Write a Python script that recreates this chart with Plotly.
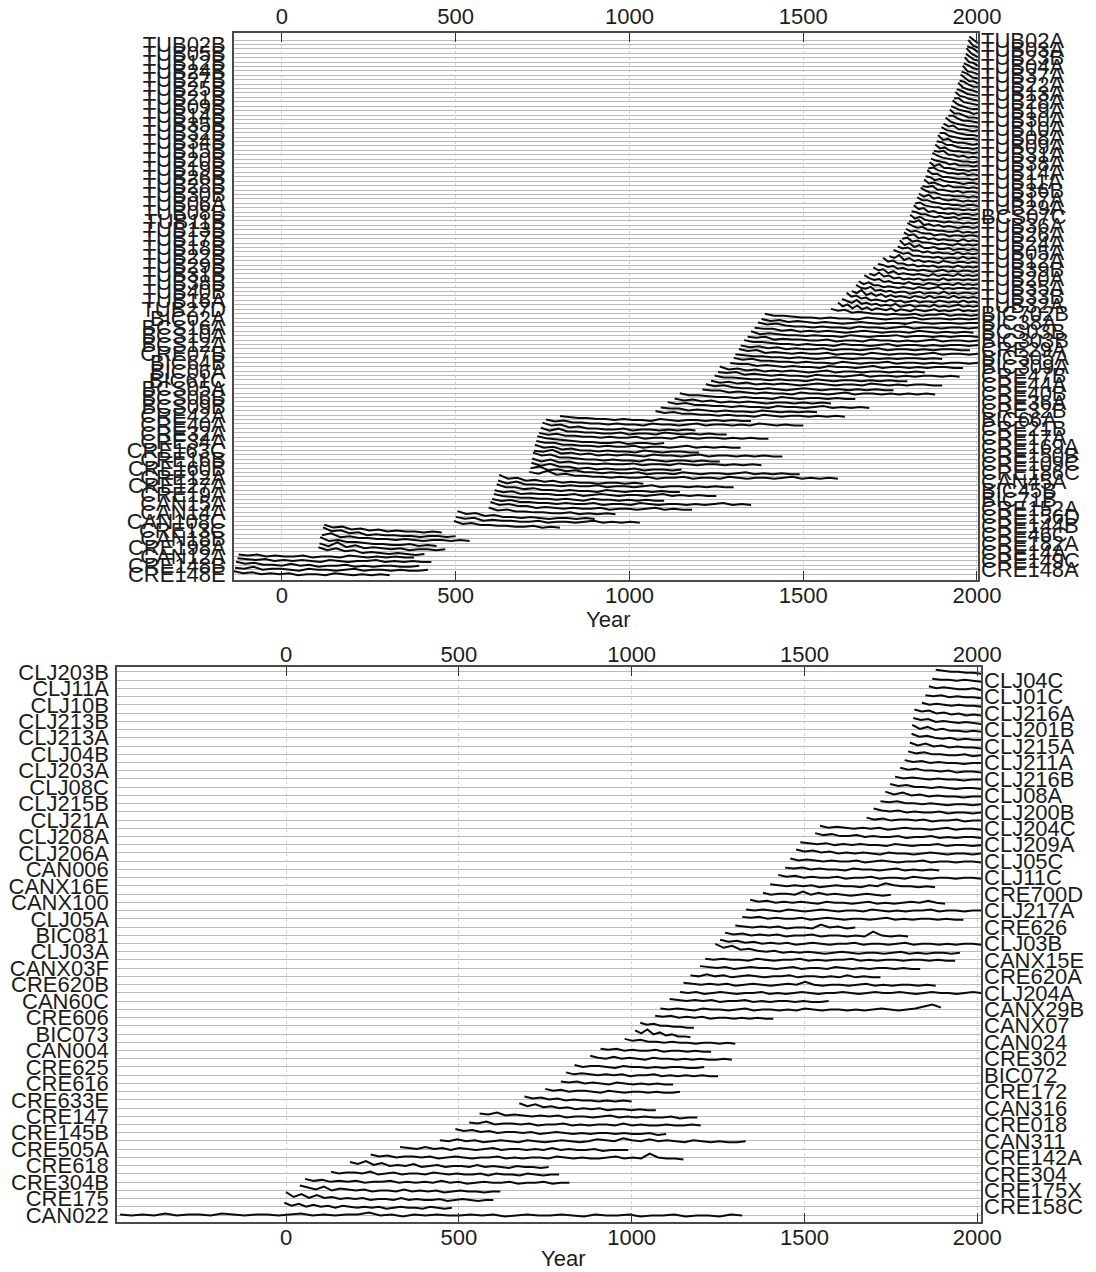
import plotly.graph_objects as go

# ---------------- upper panel: 122 series, position 1 at the bottom ----------------
# labels on the left axis (odd positions) and right axis (even positions), bottom -> top
up_left = ["CRE148E", "CRE148B", "CAN12A", "CRE198A", "CAN18B", "CRE13C", "CAN108C", "CAN14A",
           "CAN15A", "CRE19A", "CRE127A", "CRE12A", "CRE160B", "CRE16B", "CRE163C", "CRE34A",
           "CRE32A", "CRE40A", "CRE42A", "BCS09B", "BCS06B", "BCS05A", "BIC61C", "BIC06A",
           "BIC64B", "CRE07B", "BCS12A", "BCS10A", "BCS16A", "BIC02A",
           "TUB27D", "TUB16A", "TUB40B", "TUB38B", "TUB31B", "TUB29B", "TUB22B", "TUB18B",
           "TUB17B", "TUB13B", "TUB11B", "TUB08B", "TUB06A", "TUB30B", "TUB28B", "TUB26B",
           "TUB19B", "TUB20B", "TUB15B", "TUB34B", "TUB32B", "TUB35B", "TUB14B", "TUB09B",
           "TUB21B", "TUB25B", "TUB27B", "TUB24B", "TUB12B", "TUB05B", "TUB02B"]
up_right = ["CRE148A", "CRE149C", "CRE14A", "CRE182A", "CRE46C", "CRE144B", "CRE156D", "CRE152A",
            "BIC71B", "BIC45B", "CAN45A", "CRE186C", "CRE109C", "CRE150B", "CRE169A", "CRE17A",
            "CRE21B", "BIC66A", "CRE32B", "CRE36A", "CRE40B", "CRE44A", "CRE47B", "BIC309A",
            "BIC305A", "CRE29A", "BIC303B", "BCS03B", "BIC38A", "BIC702B",
            "TUB32A", "TUB33B", "TUB35A", "TUB20A", "TUB39B", "TUB12A", "TUB05A", "TUB24A",
            "TUB26A", "TUB36A", "BCS07C", "TUB29A", "TUB17A", "TUB36B", "TUB11A", "TUB14A",
            "TUB38A", "TUB31A", "TUB09A", "TUB08A", "TUB10A", "TUB30A", "TUB19A", "TUB28A",
            "TUB13A", "TUB22A", "TUB37A", "TUB04A", "TUB23B", "TUB03A", "TUB02A"]

# first and last year of each series (position order)
up_first = [-138, -135, -132, -128, -125, 105, 108, 110, 115, 118, 122, 495, 500, 505,
            595, 600, 605, 610, 612, 618, 622, 625, 712, 715, 718, 720, 722, 725, 728, 732,
            735, 740, 745, 750, 760, 800, 1075, 1090, 1110, 1130, 1145, 1210, 1220, 1235,
            1245, 1255, 1260, 1290, 1300, 1305, 1315, 1320, 1330, 1340, 1350, 1360, 1370,
            1380, 1390, 1580,
            1600, 1612, 1625, 1640, 1652, 1660, 1676, 1690, 1702, 1715, 1730, 1748, 1760,
            1772, 1778, 1785, 1790, 1796, 1800, 1805, 1808, 1812, 1818, 1822, 1828, 1833,
            1838, 1843, 1848, 1852, 1857, 1860, 1864, 1868, 1872, 1876, 1880, 1884, 1888,
            1893, 1898, 1904, 1910, 1918, 1922, 1926, 1930, 1934, 1938, 1942, 1946, 1950,
            1953, 1956, 1959, 1962, 1965, 1968, 1970, 1972, 1975, 1978]
up_last = [310, 420, 395, 430, 380, 410, 470, 445, 540, 500, 460, 800, 1030, 900,
           960, 1180, 1350, 1100, 1250, 1145, 1300, 1040, 1600, 1490, 1150, 1380, 1260, 1440,
           1200, 1320, 1100, 1400, 1280, 1190, 1500, 1350, 1620, 1540, 1690, 1580, 1650,
           1880, 1760, 1900, 1800, 1950, 1850, 1960, 2003, 1900, 2003, 1980, 2003, 2003,
           2003, 1990, 2003, 2003, 2003, 2003,
           2003, 2003, 2003, 2003, 2003, 2003, 2003, 2003, 2003, 2003, 2003, 2003, 2003,
           2003, 2003, 2003, 2003, 2003, 2003, 2003, 2003, 2003, 2003, 2003, 2003, 2003,
           2003, 2003, 2003, 2003, 2003, 2003, 2003, 2003, 2003, 2003, 2003, 2003, 2003,
           2003, 2003, 2003, 2003, 2003, 2003, 2003, 2003, 2003, 2003, 2003, 2003, 2003,
           2003, 2003, 2003, 2003, 2003, 2003, 2003, 2003, 2003, 2003]

# ring widths (0.1 mm steps), evenly spaced over each series' span
up_rw = [
    [8, 6, 7, 5, 6, 5, 6, 4, 5, 5, 4, 6, 5, 4, 5, 4, 5, 4],
    [7, 6, 8, 5, 6, 6, 5, 4, 6, 5, 5, 4, 5, 6, 4, 5, 5, 4, 5, 4, 4, 5],
    [9, 7, 8, 6, 6, 5, 7, 5, 6, 4, 5, 5, 6, 4, 5, 4, 5, 5, 4, 4, 5],
    [8, 7, 6, 7, 5, 6, 5, 6, 5, 4, 6, 5, 4, 5, 5, 6, 4, 5, 4, 5, 4, 4],
    [7, 6, 7, 5, 6, 5, 5, 6, 4, 5, 5, 4, 6, 5, 4, 5, 4, 5, 4, 4],
    [12, 9, 11, 8, 9, 6, 7, 6, 5, 6, 5, 4, 5],
    [11, 8, 12, 7, 9, 6, 7, 6, 5, 6, 4, 5, 5, 4, 5],
    [13, 9, 10, 8, 8, 7, 6, 6, 5, 5, 6, 4, 5, 4],
    [10, 12, 8, 9, 7, 7, 6, 6, 5, 6, 5, 4, 5, 5, 4, 5, 4],
    [14, 10, 11, 8, 9, 6, 7, 6, 6, 5, 5, 4, 5, 5, 4, 5],
    [12, 9, 10, 7, 8, 6, 7, 5, 6, 5, 5, 4, 5, 4],
    [11, 8, 9, 7, 7, 6, 6, 5, 5, 6, 4, 5, 4],
    [10, 8, 9, 6, 7, 6, 6, 5, 5, 6, 4, 5, 5, 4, 5, 6, 4, 5, 4, 5, 4],
    [12, 9, 10, 7, 8, 6, 6, 5, 6, 5, 4, 5, 5, 4, 5, 4],
    [11, 8, 9, 7, 7, 6, 6, 5, 5, 6, 4, 5, 4, 5, 4],
    [12, 9, 10, 8, 8, 6, 7, 6, 5, 6, 5, 5, 6, 4, 5, 5, 4, 5, 6, 4, 5, 4, 4],
    [10, 8, 9, 7, 7, 6, 6, 5, 6, 5, 5, 6, 4, 5, 5, 4, 6, 5, 4, 5, 5, 4, 5, 4, 5, 6, 4, 5, 4],
    [11, 9, 8, 7, 7, 6, 6, 5, 6, 5, 4, 6, 5, 5, 4, 5, 4, 5, 4, 4],
    [10, 8, 9, 6, 7, 6, 6, 5, 5, 6, 4, 5, 6, 5, 4, 5, 5, 4, 5, 6, 4, 5, 4, 5, 4, 4],
    [12, 9, 9, 7, 8, 6, 6, 5, 6, 5, 5, 4, 6, 5, 4, 5, 5, 4, 5, 4, 4],
    [11, 8, 10, 7, 7, 6, 6, 5, 6, 5, 5, 6, 4, 5, 5, 4, 5, 6, 4, 5, 5, 4, 5, 4, 5, 4, 4],
    [13, 9, 10, 7, 8, 6, 7, 5, 6, 5, 5, 4, 5, 5, 4, 5, 4],
    [11, 9, 12, 8, 9, 7, 7, 6, 6, 5, 6, 5, 5, 6, 4, 5, 5, 6, 4, 5, 5, 4, 6, 5, 4, 5, 5, 4, 5, 6, 4, 5, 4, 5, 4],
    [10, 12, 8, 9, 7, 8, 6, 6, 5, 6, 5, 5, 6, 4, 5, 5, 4, 6, 5, 4, 5, 5, 4, 5, 6, 4, 5, 4, 5, 4, 4],
    [12, 9, 11, 8, 8, 6, 7, 5, 6, 5, 5, 6, 4, 5, 5, 4, 5],
    [11, 8, 10, 7, 8, 6, 6, 5, 6, 5, 5, 6, 4, 5, 5, 4, 6, 5, 4, 5, 5, 4, 5, 4, 5, 4],
    [13, 10, 11, 8, 8, 7, 6, 6, 5, 6, 5, 5, 4, 6, 5, 4, 5, 5, 4, 5, 4, 4],
    [10, 9, 11, 7, 8, 6, 7, 5, 6, 5, 6, 5, 4, 6, 5, 5, 4, 5, 6, 4, 5, 5, 4, 5, 4, 5, 4, 4],
    [12, 9, 10, 7, 8, 6, 6, 5, 6, 5, 5, 4, 6, 5, 4, 5, 5, 4, 4],
    [11, 9, 9, 7, 7, 6, 6, 5, 6, 5, 5, 6, 4, 5, 5, 4, 5, 6, 4, 5, 4, 5, 4, 4],
    [12, 10, 9, 8, 7, 6, 6, 5, 5, 6, 4, 5, 5, 4, 5],
    [10, 8, 9, 7, 7, 6, 6, 5, 6, 5, 5, 6, 4, 5, 5, 4, 6, 5, 4, 5, 5, 4, 5, 4, 5, 4, 4],
    [11, 8, 10, 7, 7, 6, 6, 5, 5, 6, 4, 5, 5, 4, 6, 5, 4, 5, 4, 5, 4, 4],
    [12, 9, 10, 7, 8, 6, 6, 5, 5, 6, 4, 5, 5, 4, 5, 4, 5, 4],
    [10, 8, 9, 7, 7, 6, 6, 5, 6, 5, 5, 4, 6, 5, 5, 4, 5, 6, 4, 5, 5, 4, 5, 4, 6, 5, 4, 5, 4, 4],
    [9, 8, 7, 7, 6, 6, 5, 6, 5, 5, 4, 6, 5, 4, 5, 5, 4, 5, 4, 5, 4, 4],
    [10, 8, 9, 7, 7, 6, 6, 5, 6, 5, 5, 4, 6, 5, 4, 5, 5, 4, 5, 4, 5, 4],
    [9, 8, 8, 6, 7, 6, 5, 6, 5, 5, 4, 6, 5, 4, 5, 4, 5, 4],
    [10, 8, 9, 7, 7, 6, 6, 5, 6, 5, 5, 4, 6, 5, 5, 4, 5, 6, 4, 5, 4, 5, 4],
    [9, 7, 8, 6, 7, 5, 6, 5, 6, 5, 4, 5, 5, 4, 5, 4, 5, 4],
    [10, 8, 8, 7, 6, 6, 5, 6, 5, 5, 4, 6, 5, 4, 5, 5, 4, 5, 4, 4],
    [9, 8, 8, 6, 7, 6, 5, 6, 5, 5, 4, 6, 5, 5, 4, 5, 6, 4, 5, 5, 4, 5, 4, 5, 4, 5, 4],
    [10, 8, 9, 7, 6, 6, 5, 6, 5, 4, 5, 6, 5, 4, 5, 5, 4, 5, 4, 5, 4, 4],
    [9, 7, 8, 6, 7, 5, 6, 5, 6, 5, 4, 5, 6, 5, 4, 5, 5, 4, 6, 5, 4, 5, 4, 5, 5, 4, 4],
    [10, 8, 8, 7, 6, 6, 5, 6, 5, 5, 4, 6, 5, 4, 5, 5, 4, 5, 4, 5, 4, 4],
    [9, 8, 9, 6, 7, 6, 5, 6, 5, 5, 4, 6, 5, 5, 4, 5, 6, 4, 5, 5, 4, 5, 4, 5, 5, 4, 5, 4],
    [10, 7, 8, 6, 7, 5, 6, 5, 6, 5, 4, 5, 6, 4, 5, 5, 4, 5, 5, 4, 5, 4, 5, 4],
    [9, 8, 8, 6, 7, 6, 5, 6, 5, 5, 4, 6, 5, 5, 4, 5, 6, 4, 5, 5, 4, 5, 4, 5, 5, 4, 4],
    [10, 8, 9, 7, 7, 6, 6, 5, 6, 5, 5, 4, 6, 5, 4, 5, 5, 6, 4, 5, 5, 4, 5, 4, 5, 5, 4, 5],
    [9, 8, 7, 7, 6, 6, 5, 6, 5, 4, 5, 6, 5, 4, 5, 5, 4, 5, 4, 5, 5, 4, 5, 4],
    [10, 8, 9, 6, 7, 6, 5, 6, 5, 5, 6, 4, 5, 5, 4, 6, 5, 4, 5, 5, 4, 5, 6, 4, 5, 5, 4, 5],
    [9, 7, 8, 6, 7, 5, 6, 5, 5, 6, 4, 5, 5, 4, 5, 6, 4, 5, 5, 4, 5, 4, 5, 5, 4, 4],
    [10, 8, 8, 7, 6, 6, 5, 6, 5, 5, 4, 6, 5, 5, 4, 5, 6, 4, 5, 5, 4, 5, 4, 5, 5, 4, 5],
    [9, 8, 9, 6, 7, 6, 6, 5, 5, 6, 4, 5, 5, 4, 6, 5, 5, 4, 5, 4, 5, 6, 4, 5, 5, 4, 5],
    [10, 7, 8, 7, 6, 6, 5, 6, 5, 5, 4, 6, 5, 4, 5, 5, 6, 4, 5, 5, 4, 5, 4, 5, 5, 4],
    [9, 8, 8, 6, 7, 5, 6, 5, 6, 5, 4, 5, 6, 5, 4, 5, 5, 4, 6, 5, 4, 5, 4, 5, 4],
    [10, 8, 9, 7, 6, 6, 5, 6, 5, 5, 4, 6, 5, 5, 4, 5, 6, 4, 5, 5, 4, 5, 5, 4, 5],
    [9, 7, 8, 6, 7, 6, 5, 6, 5, 4, 5, 6, 5, 4, 5, 5, 4, 6, 5, 4, 5, 5, 4, 5, 5],
    [10, 8, 8, 7, 6, 6, 5, 6, 5, 5, 4, 6, 5, 4, 5, 5, 6, 4, 5, 5, 4, 5, 4, 5],
    [11, 9, 10, 7, 8, 7, 6, 6, 5, 6, 5, 5, 6, 4, 5, 5, 6, 4, 5, 5, 4, 5],
    [14, 10, 12, 8, 11, 7, 9, 6, 8, 7, 6, 8, 5, 7, 6, 5, 7, 6, 5, 6, 7, 5, 6, 5, 6, 7, 5, 6, 5, 6],
    [13, 11, 9, 12, 8, 9, 7, 8, 6, 7, 6, 8, 5, 6, 7, 5, 6, 6, 5, 7, 5, 6, 5, 6, 7, 5, 6, 5, 6],
    [15, 11, 12, 9, 10, 7, 8, 7, 6, 8, 6, 7, 5, 6, 7, 5, 6, 6, 5, 7, 6, 5, 6, 5, 7, 5, 6, 5],
    [12, 10, 13, 8, 10, 7, 9, 6, 8, 6, 7, 6, 5, 7, 6, 5, 7, 5, 6, 6, 5, 7, 5, 6, 5, 6, 5],
    [14, 11, 10, 12, 8, 9, 7, 8, 6, 7, 7, 5, 6, 7, 5, 6, 6, 5, 7, 5, 6, 5, 6, 6, 5, 6],
    [13, 10, 12, 9, 9, 7, 8, 7, 6, 7, 6, 5, 7, 6, 5, 6, 7, 5, 6, 5, 6, 6, 5, 6, 5],
    [15, 12, 10, 11, 8, 9, 7, 7, 6, 8, 6, 6, 5, 7, 6, 5, 6, 6, 5, 7, 5, 6, 5, 6],
    [12, 10, 13, 9, 10, 7, 8, 6, 7, 6, 7, 5, 6, 6, 5, 7, 5, 6, 6, 5, 6, 5, 6],
    [14, 11, 12, 8, 10, 7, 8, 7, 6, 7, 6, 5, 7, 5, 6, 6, 5, 7, 5, 6, 5, 6],
    [13, 12, 10, 11, 8, 9, 7, 7, 6, 7, 6, 5, 6, 7, 5, 6, 5, 6, 6, 5, 6],
    [15, 11, 12, 9, 9, 7, 8, 6, 7, 6, 7, 5, 6, 6, 5, 7, 5, 6, 5, 6],
    [12, 10, 13, 8, 10, 7, 8, 6, 7, 6, 5, 7, 6, 5, 6, 6, 5, 6, 5],
    [14, 12, 10, 11, 8, 8, 7, 7, 6, 7, 5, 6, 6, 5, 7, 5, 6, 5],
    [13, 11, 12, 9, 9, 7, 8, 6, 7, 6, 6, 5, 7, 5, 6, 5, 6],
    [15, 10, 12, 8, 10, 7, 7, 8, 6, 6, 7, 5, 6, 6, 5, 6, 5],
    [12, 13, 9, 10, 8, 8, 7, 6, 7, 6, 5, 7, 5, 6, 5, 6],
    [14, 11, 12, 8, 9, 7, 8, 6, 7, 6, 6, 5, 7, 5, 6, 5],
    [13, 10, 11, 9, 8, 8, 6, 7, 7, 5, 6, 6, 5, 6, 6, 5],
    [15, 12, 10, 11, 8, 8, 7, 7, 6, 6, 7, 5, 6, 5, 6],
    [12, 11, 13, 8, 9, 7, 8, 6, 7, 6, 5, 6, 6, 5, 6],
    [14, 10, 12, 9, 8, 8, 7, 6, 7, 6, 6, 5, 6, 5, 6],
    [13, 12, 10, 10, 8, 7, 8, 6, 6, 7, 5, 6, 6, 5, 5],
    [15, 11, 12, 8, 9, 7, 7, 6, 7, 5, 6, 6, 5, 6],
    [12, 13, 10, 9, 8, 8, 6, 7, 6, 6, 5, 6, 5, 6],
    [14, 11, 11, 9, 8, 7, 7, 6, 6, 5, 6, 6, 5],
    [13, 10, 12, 8, 9, 7, 6, 7, 6, 5, 6, 5, 6],
    [15, 12, 10, 10, 8, 7, 7, 6, 6, 6, 5, 6, 5],
    [12, 11, 12, 8, 8, 7, 6, 7, 5, 6, 6, 5],
    [14, 10, 11, 9, 7, 8, 6, 6, 6, 5, 6, 5],
    [13, 12, 9, 10, 8, 7, 7, 6, 5, 6, 6, 5],
    [15, 11, 11, 8, 8, 7, 6, 6, 6, 5, 6],
    [12, 13, 10, 9, 7, 7, 6, 7, 5, 6, 5],
    [14, 10, 12, 8, 8, 7, 6, 6, 5, 6, 6],
    [13, 11, 10, 9, 7, 8, 6, 6, 6, 5, 6],
    [15, 12, 10, 9, 8, 7, 6, 6, 5, 6],
    [12, 11, 12, 8, 8, 6, 7, 5, 6, 5],
    [14, 10, 11, 8, 7, 7, 6, 6, 5, 6],
    [13, 12, 9, 9, 7, 6, 6, 5, 6],
    [15, 10, 11, 8, 7, 7, 6, 5, 6],
    [12, 12, 9, 8, 7, 6, 6, 6, 5],
    [14, 11, 10, 8, 7, 6, 6, 5],
    [13, 10, 11, 7, 7, 6, 5, 6],
    [15, 11, 9, 8, 7, 6, 6, 5],
    [12, 12, 9, 7, 7, 6, 5],
    [14, 10, 10, 8, 6, 6, 5],
    [13, 11, 9, 8, 7, 5, 6],
    [15, 11, 9, 7, 6, 6],
    [12, 12, 8, 7, 6, 5],
    [14, 10, 9, 7, 6, 5],
    [13, 11, 8, 7, 6],
    [15, 10, 8, 7, 5],
    [12, 11, 8, 6, 6],
    [14, 10, 7, 7, 5],
    [13, 11, 7, 6],
    [15, 9, 8, 6],
    [12, 10, 7, 6],
    [14, 9, 8, 5],
    [13, 10, 7, 6],
    [15, 9, 6],
    [12, 10, 6],
    [14, 8, 6],
    [13, 9, 6],
]

# ---------------- lower panel: 67 series, position 1 at the bottom ----------------
lo_names = ["CAN022", "CRE158C", "CRE175", "CRE175X", "CRE304B", "CRE304", "CRE618", "CRE142A",
            "CRE505A", "CAN311", "CRE145B", "CRE018", "CRE147", "CAN316", "CRE633E", "CRE172",
            "CRE616", "BIC072", "CRE625", "CRE302", "CAN004", "CAN024", "BIC073", "CANX07",
            "CRE606", "CANX29B", "CAN60C", "CLJ204A", "CRE620B", "CRE620A", "CANX03F", "CANX15E",
            "CLJ03A", "CLJ03B", "BIC081", "CRE626", "CLJ05A", "CLJ217A", "CANX100", "CRE700D",
            "CANX16E", "CLJ11C", "CAN006", "CLJ05C", "CLJ206A", "CLJ209A", "CLJ208A", "CLJ204C",
            "CLJ21A", "CLJ200B", "CLJ215B", "CLJ08A", "CLJ08C", "CLJ216B", "CLJ203A", "CLJ211A",
            "CLJ04B", "CLJ215A", "CLJ213A", "CLJ201B", "CLJ213B", "CLJ216A", "CLJ10B", "CLJ01C",
            "CLJ11A", "CLJ04C", "CLJ203B"]
lo_first = [-480, -5, 0, 40, 55, 130, 185, 245, 330, 445, 490, 530, 560, 675, 690, 750, 795,
            810, 835, 880, 910, 980, 1010, 1025, 1068, 1083, 1110, 1140, 1150, 1170, 1198, 1213,
            1242, 1256, 1270, 1300, 1320, 1331, 1343, 1380, 1401, 1424, 1444, 1459, 1476, 1488,
            1531, 1545, 1680, 1700, 1720, 1734, 1748, 1762, 1777, 1790, 1800, 1805, 1810, 1812,
            1815, 1818, 1840, 1850, 1860, 1870, 1880]
lo_last = [1320, 480, 600, 620, 820, 790, 760, 1150, 990, 1330, 1100, 1200, 1190, 1070, 1000,
           1140, 1120, 1250, 1210, 1290, 1230, 1300, 1170, 1180, 1410, 1895, 1570, 2011, 1880,
           1720, 1835, 1936, 1950, 2011, 1800, 1647, 1960, 2011, 1907, 1750, 1878, 2011, 1890,
           2011, 2011, 2011, 2011, 2011, 2011, 2011, 2011, 2011, 2011, 2011, 2011, 2011, 2011,
           2011, 2011, 2011, 2011, 2011, 2011, 2011, 2011, 2011, 2011]
lo_rw = [
    [5, 4, 5, 4, 6, 4, 5, 5, 4, 6, 5, 4, 5, 5, 4, 5, 6, 4, 5, 4, 5, 5, 7, 4, 5, 3, 5, 4, 5, 4,
     4, 5, 4, 5, 3, 4, 5, 4, 4, 5, 4, 3, 5, 4, 4, 5, 3, 4, 4, 5, 3, 4, 4, 3, 5, 4],
    [9, 6, 8, 5, 7, 5, 6, 4, 6, 5, 4, 5, 4, 5, 3, 4, 5, 4, 4, 3, 5, 4, 3, 4],
    [12, 7, 10, 6, 9, 6, 7, 5, 6, 5, 6, 4, 5, 5, 4, 6, 4, 5, 4, 4, 5, 3, 4, 5, 4, 3, 4, 4],
    [10, 8, 6, 9, 5, 7, 6, 5, 6, 4, 5, 5, 4, 6, 4, 5, 4, 5, 3, 4, 5, 4, 4, 3, 4, 4],
    [8, 6, 7, 5, 6, 5, 6, 4, 5, 5, 6, 4, 5, 4, 5, 4, 6, 4, 5, 3, 4, 5, 4, 4, 5, 3, 4, 4, 5, 3, 4, 4],
    [7, 5, 6, 6, 5, 7, 4, 5, 6, 4, 5, 5, 4, 6, 5, 4, 5, 4, 4, 5, 3, 5, 4, 4, 3, 5, 4, 3, 4, 4],
    [9, 7, 10, 6, 8, 5, 6, 5, 7, 4, 5, 6, 4, 5, 5, 4, 6, 4, 5, 4, 3, 5, 4, 4, 3, 4],
    [8, 6, 7, 5, 6, 6, 5, 6, 4, 5, 6, 5, 4, 5, 5, 6, 4, 5, 4, 5, 5, 4, 6, 5, 4, 5, 4, 4, 5, 6,
     4, 5, 4, 9, 5, 4, 4, 3],
    [7, 6, 5, 7, 5, 6, 4, 6, 5, 4, 5, 6, 4, 5, 5, 4, 5, 4, 6, 4, 5, 4, 4, 5, 3, 4, 4, 4],
    [6, 5, 7, 5, 6, 4, 5, 6, 5, 4, 6, 5, 4, 5, 6, 5, 4, 5, 7, 6, 5, 8, 6, 5, 7, 5, 6, 5, 4, 6,
     5, 4, 5, 4, 4, 5],
    [9, 7, 8, 6, 7, 5, 6, 6, 5, 6, 4, 5, 6, 5, 4, 5, 4, 5, 5, 4, 5, 4, 4, 5, 3, 4],
    [7, 6, 8, 5, 6, 6, 5, 6, 4, 5, 5, 6, 4, 5, 4, 5, 5, 4, 6, 4, 5, 4, 4, 5, 4, 4, 5, 4],
    [8, 7, 9, 6, 7, 6, 5, 6, 5, 6, 4, 5, 5, 4, 5, 6, 4, 5, 4, 5, 4, 4, 5, 3, 4, 4],
    [11, 8, 10, 7, 8, 6, 7, 5, 6, 5, 6, 4, 5, 5, 4, 5, 4, 4],
    [9, 7, 8, 6, 7, 5, 6, 5, 5, 4, 5, 4, 5, 4],
    [8, 6, 7, 5, 6, 6, 5, 4, 6, 5, 4, 5, 5, 4, 5, 4, 4, 5],
    [7, 6, 7, 5, 6, 5, 4, 6, 5, 4, 5, 4, 5, 4, 4],
    [8, 6, 7, 6, 5, 6, 5, 6, 4, 5, 5, 6, 4, 5, 4, 5, 4, 5, 4, 4],
    [7, 5, 6, 6, 5, 4, 6, 5, 5, 4, 5, 4, 5, 5, 4, 4, 5],
    [8, 6, 5, 7, 5, 6, 5, 4, 6, 5, 5, 4, 5, 4, 5, 4, 4, 5, 4],
    [7, 6, 7, 5, 6, 5, 5, 6, 4, 5, 5, 4, 5, 4, 4],
    [9, 7, 8, 6, 6, 5, 6, 5, 5, 4, 5, 5, 4, 5, 4],
    [12, 9, 13, 8, 10, 7, 8, 6, 6, 5],
    [10, 8, 9, 7, 7, 6, 6, 5, 5],
    [7, 6, 7, 5, 6, 5, 6, 4, 5, 5, 4, 5, 4, 5, 4, 4],
    [6, 5, 6, 5, 4, 6, 5, 5, 4, 5, 6, 4, 5, 5, 4, 5, 4, 6, 5, 4, 5, 5, 4, 5, 4, 5, 6, 5, 4, 5,
     6, 8, 10, 7],
    [7, 6, 5, 6, 5, 6, 4, 5, 5, 6, 4, 5, 4, 5, 5, 4, 5, 4, 4, 5],
    [6, 5, 6, 4, 5, 6, 5, 4, 5, 5, 6, 4, 5, 4, 5, 6, 5, 4, 5, 5, 6, 5, 4, 5, 6, 5, 5, 6, 5, 4,
     5, 6, 5, 5, 4, 5, 6, 5],
    [7, 6, 5, 6, 5, 6, 4, 5, 6, 5, 4, 5, 6, 5, 8, 5, 4, 5, 5, 4, 5, 6, 4, 5, 4, 5, 5, 4, 5, 4],
    [6, 5, 7, 5, 6, 4, 5, 6, 5, 4, 5, 5, 6, 4, 5, 5, 4, 5, 4, 6, 4, 5, 4, 4],
    [7, 6, 5, 6, 4, 5, 6, 5, 5, 4, 5, 6, 4, 5, 5, 4, 6, 5, 4, 5, 4, 5, 5, 4, 5, 4, 4],
    [6, 5, 6, 5, 5, 4, 6, 5, 4, 5, 5, 6, 4, 5, 4, 5, 5, 6, 4, 5, 4, 5, 5, 4, 5, 5, 4, 5, 4, 4],
    [14, 10, 12, 8, 9, 7, 6, 7, 5, 6, 5, 6, 5, 4, 5, 6, 5, 4, 5, 5, 4, 5, 6, 4, 5, 4, 5, 5, 4, 5],
    [9, 7, 8, 6, 7, 5, 6, 5, 6, 4, 5, 6, 5, 4, 5, 5, 6, 4, 5, 5, 4, 5, 6, 4, 5, 5, 4, 5, 4, 5,
     5, 4],
    [8, 6, 7, 5, 6, 5, 6, 4, 5, 5, 6, 4, 5, 5, 4, 5, 4, 9, 5, 4, 5, 4],
    [7, 6, 5, 6, 5, 6, 4, 5, 5, 4, 8, 5, 6, 4, 5],
    [7, 6, 7, 5, 6, 5, 5, 6, 4, 5, 6, 5, 4, 5, 5, 4, 5, 6, 4, 5, 4, 5, 5, 4, 5, 4, 4],
    [6, 5, 6, 5, 4, 6, 5, 4, 5, 6, 5, 4, 5, 5, 4, 6, 5, 4, 5, 4, 5, 5, 6, 4, 5, 5, 4, 5, 5],
    [8, 6, 7, 5, 6, 5, 6, 5, 4, 6, 5, 5, 4, 5, 6, 4, 5, 4, 5, 6, 5, 7, 5, 4],
    [7, 5, 6, 6, 5, 8, 5, 7, 5, 6, 5, 4, 5, 6, 5, 4, 5],
    [7, 6, 5, 6, 5, 6, 4, 5, 6, 5, 5, 4, 6, 5, 8, 6, 5, 5, 4, 5, 4],
    [8, 6, 7, 5, 6, 5, 5, 6, 4, 5, 5, 6, 4, 5, 5, 4, 6, 5, 4, 5, 5, 4, 5, 5, 4],
    [7, 6, 7, 5, 6, 5, 5, 4, 6, 5, 5, 4, 5, 6, 4, 5, 4, 5, 4],
    [8, 6, 7, 6, 5, 6, 5, 5, 6, 4, 5, 6, 5, 4, 5, 5, 6, 4, 5, 5, 4, 5, 5, 4],
    [9, 7, 8, 6, 7, 5, 6, 5, 6, 5, 4, 6, 5, 5, 4, 5, 6, 5, 4, 5, 5, 4, 5],
    [8, 7, 6, 7, 5, 6, 5, 6, 5, 5, 4, 6, 5, 4, 5, 5, 6, 4, 5, 5, 4, 5],
    [9, 7, 8, 6, 6, 7, 5, 6, 5, 5, 6, 4, 5, 5, 6, 4, 5, 4, 5, 5, 4],
    [8, 6, 7, 6, 5, 6, 5, 6, 4, 5, 6, 5, 5, 4, 5, 6, 4, 5, 5, 4],
    [8, 6, 7, 5, 6, 6, 5, 6, 4, 5, 5, 6, 4, 5, 5],
    [9, 7, 6, 7, 5, 6, 5, 5, 6, 4, 5, 5, 4, 5],
    [8, 7, 8, 6, 6, 5, 6, 5, 4, 5, 5, 4, 5],
    [10, 7, 9, 6, 7, 5, 6, 5, 5, 4, 5, 5],
    [9, 7, 8, 6, 6, 5, 6, 5, 4, 5, 5, 4],
    [8, 6, 7, 6, 5, 6, 5, 5, 4, 5, 5],
    [9, 7, 8, 6, 6, 5, 6, 4, 5, 5, 4],
    [8, 6, 7, 5, 6, 5, 5, 4, 5, 5],
    [9, 7, 8, 6, 6, 5, 5, 6, 4, 5],
    [10, 7, 9, 6, 7, 5, 6, 5, 5, 4],
    [11, 8, 9, 7, 6, 7, 5, 6, 5, 5],
    [12, 8, 10, 7, 8, 6, 6, 5, 6, 5],
    [10, 8, 9, 6, 7, 6, 5, 6, 5, 4],
    [11, 9, 10, 7, 8, 6, 7, 5, 6, 5],
    [8, 6, 7, 6, 5, 6, 5, 5, 4],
    [7, 6, 7, 5, 6, 5, 5, 4],
    [8, 6, 7, 6, 5, 5, 6, 4],
    [7, 6, 6, 5, 6, 5, 4],
    [8, 7, 6, 6, 5, 5, 4],
]

year_ticks = [0, 500, 1000, 1500, 2000]

# ---------------- drawing ----------------
FONT = dict(family="Liberation Sans, Arial, sans-serif", size=22, color="#1c1c1c")
RING_GRID = "#bababa"
BOX = "#4a4a4a"

up_names = [nm for pair in zip(up_left, up_right) for nm in pair]

fig = go.Figure()


def add_series(names, first, last, rw, scale, width, left_axes, right_axes):
    """Each series is centred on its mean and drawn around its position number."""
    if not (len(names) == len(first) == len(last) == len(rw)):
        raise ValueError("series tables differ in length")
    for i, nm in enumerate(names):
        pos = i + 1
        w = rw[i]
        n = len(w)
        mean = sum(w) / n
        xs = [first[i] + (last[i] - first[i]) * j / (n - 1) for j in range(n)]
        ys = [pos + (v - mean) * scale for v in w]
        xa, ya = left_axes if pos % 2 else right_axes
        fig.add_trace(go.Scatter(
            x=xs, y=ys, mode="lines", name=nm, xaxis=xa, yaxis=ya,
            line=dict(color="#0a0a0a", width=width), showlegend=False,
            hovertemplate=nm + "<extra></extra>"))


add_series(up_names, up_first, up_last, up_rw, 0.22, 2.0, ("x", "y"), ("x2", "y2"))
add_series(lo_names, lo_first, lo_last, lo_rw, 0.12, 2.0, ("x3", "y3"), ("x4", "y4"))

up_pos = list(range(1, len(up_names) + 1))
lo_pos = list(range(1, len(lo_names) + 1))


def bottom_x(domain, rng, anchor):
    return dict(domain=domain, range=rng, anchor=anchor, tickmode="array", tickvals=year_ticks,
                ticks="inside", ticklen=9, tickwidth=1.2, tickcolor="#333",
                showline=True, mirror=True, linecolor=BOX, linewidth=1.6,
                showgrid=True, gridcolor="#d2d2d2", griddash="dot", gridwidth=1,
                zeroline=False, tickfont=FONT, automargin=False, ticklabelstandoff=-5)


def top_x(over, rng, anchor, standoff):
    return dict(overlaying=over, side="top", anchor=anchor, range=rng, tickmode="array",
                tickvals=year_ticks, ticks="inside", ticklen=9, tickwidth=1.2, tickcolor="#333",
                showline=False, showgrid=False, zeroline=False, tickfont=FONT, automargin=False,
                ticklabelstandoff=standoff)


def left_y(domain, rng, anchor, pos, labels):
    return dict(domain=domain, range=rng, anchor=anchor, tickmode="array",
                tickvals=pos[0::2], ticktext=labels, ticks="", showline=True, mirror=True,
                linecolor=BOX, linewidth=1.6, showgrid=True, gridcolor=RING_GRID, gridwidth=1,
                zeroline=False, tickfont=FONT, ticklabelstandoff=2, automargin=False)


def right_y(over, rng, anchor, pos, labels):
    return dict(overlaying=over, side="right", anchor=anchor, range=rng, tickmode="array",
                tickvals=pos[1::2], ticktext=labels, ticks="", showline=False,
                showgrid=True, gridcolor=RING_GRID, gridwidth=1,
                zeroline=False, tickfont=FONT, ticklabelstandoff=2, automargin=False)


UP_X = [-138, 2003]
UP_Y = [-0.36, 123.6]
LO_X = [-489, 2011]
LO_Y = [0.15, 67.6]

fig.update_layout(
    template="none",
    width=1096, height=1272,
    margin=dict(l=0, r=0, t=0, b=0, autoexpand=False),
    paper_bgcolor="white", plot_bgcolor="white",
    font=FONT,
    xaxis=bottom_x([0.2135, 0.8923], UP_X, "y"),
    xaxis2=top_x("x", UP_X, "y", 4),
    yaxis=left_y([0.5440, 0.9741], UP_Y, "x", up_pos, up_left),
    yaxis2=right_y("y", UP_Y, "x", up_pos, up_right),
    xaxis3=bottom_x([0.1068, 0.8951], LO_X, "y3"),
    xaxis4=top_x("x3", LO_X, "y3", 0),
    yaxis3=left_y([0.0393, 0.4756], LO_Y, "x3", lo_pos, lo_names[0::2]),
    yaxis4=right_y("y3", LO_Y, "x3", lo_pos, lo_names[1::2]),
    annotations=[
        dict(text="Year", xref="paper", yref="paper", x=0.5547, y=0.5126,
             xanchor="center", yanchor="middle", showarrow=False, font=FONT),
        dict(text="Year", xref="paper", yref="paper", x=0.5137, y=0.0110,
             xanchor="center", yanchor="middle", showarrow=False, font=FONT),
    ],
)

fig.write_html("out.html")
